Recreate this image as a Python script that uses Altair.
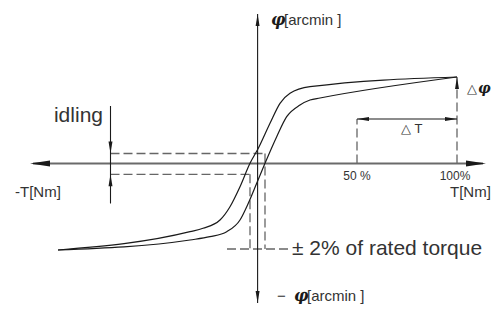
import altair as alt
import pandas as pd

# ---- data (T in % of rated torque, phi in schematic arcmin units) ----
upper_T   = [-99.5, -33.5, -27.0, -18.5, -13.5, -8.5, -3.5, 0.65, 6.5, 11.5, 16.5, 26.5, 100]
upper_phi = [-8.65, -6.82, -6.48, -5.65, -4.32, -2.32, 0.02, 1.52, 4.02, 6.02, 7.02, 7.68, 8.65]
lower_T   = [-99.5, -33.5, -23.5, -15.15, -8.5, -4.35, -0.15, 4.0, 9.85, 14.85, 21.5, 26.5, 31.5, 100]
lower_phi = [-8.65, -7.65, -7.32, -6.82, -5.65, -3.98, -1.98, 0.02, 2.68, 4.68, 5.85, 6.35, 6.55, 8.65]

# solid lines: horizontal axis, vertical axis, idling marker, delta-T dimension
axis_h_T   = [-112.0, 113.0]
axis_h_phi = [0.0, 0.0]
solid_T1   = [0.3, -73.25, 50.0]
solid_T2   = [0.3, -73.25, 100.0]
solid_p1   = [14.95, 5.75, 4.45]
solid_p2   = [-13.95, -4.0, 4.45]

# dashed helper lines
dash_T1 = [-73.25, -73.25, 4.0, -3.5, -15.0, 50.0, 100.0]
dash_T2 = [4.0, -3.5, 4.0, -3.5, 15.5, 50.0, 100.0]
dash_p1 = [1.0, -1.08, 1.0, -1.08, -8.55, 0.0, 0.0]
dash_p2 = [1.0, -1.08, -8.55, -8.55, -8.55, 4.45, 8.65]

# arrowheads (tip positions and directions)
big_arrow_T   = [-113.5, 114.5]
big_arrow_phi = [0.0, 0.0]
big_arrow_ang = [270, 90]
small_arrow_T   = [0.3, 0.3, -73.25, -73.25, 50.0, 100.0, 100.0]
small_arrow_phi = [14.95, -13.95, 1.0, -1.08, 4.45, 4.45, 8.65]
small_arrow_ang = [0, 180, 180, 0, 270, 90, 0]

# labels
big_labels   = ["idling", "± 2% of rated torque"]
big_T        = [-77.0, 17.5]
big_phi      = [4.15, -9.15]
unit_labels  = ["-T[Nm]", "T[Nm]", "[arcmin ]", "[arcmin ]", "−"]
unit_T       = [-121.0, 96.5, 13.5, 25.0, 10.0]
unit_phi     = [-3.35, -3.35, 13.85, -13.75, -13.75]
pct_labels   = ["50 %", "100%", "△  T"]
pct_T        = [50.0, 99.0, 72.0]
pct_phi      = [-1.65, -1.65, 3.05]
phi_labels   = ["φ", "φ"]
phi_T        = [7.0, 18.5]
phi_phi      = [13.85, -13.75]
dphi_labels  = ["△", "φ"]
dphi_T       = [105.0, 110.5]
dphi_phi     = [7.05, 7.05]

# ---- chart ----
xs = alt.Scale(domain=[-124.5, 117.0], nice=False, zero=False)
ys = alt.Scale(domain=[-14.05, 15.55], nice=False, zero=False)
X = lambda f: alt.X(f"{f}:Q", scale=xs, axis=None)
Y = lambda f: alt.Y(f"{f}:Q", scale=ys, axis=None)

curve_df = pd.DataFrame(
    [{"branch": "up", "i": i, "T": t, "phi": p} for i, (t, p) in enumerate(zip(upper_T, upper_phi))]
    + [{"branch": "low", "i": i, "T": t, "phi": p} for i, (t, p) in enumerate(zip(lower_T, lower_phi))]
)
curves = alt.Chart(curve_df).mark_line(interpolate="monotone", color="#1a1a1a", strokeWidth=1.2).encode(
    x=X("T"), y=Y("phi"), detail="branch:N", order="i:Q")

haxis = alt.Chart(pd.DataFrame({"T": axis_h_T, "phi": axis_h_phi})).mark_line(
    color="#6a6a6a", strokeWidth=1.8).encode(x=X("T"), y=Y("phi"))

solid_df = pd.DataFrame({"T1": solid_T1, "T2": solid_T2, "p1": solid_p1, "p2": solid_p2})
solid = alt.Chart(solid_df).mark_rule(color="#1a1a1a", strokeWidth=1.1).encode(
    x=X("T1"), x2="T2:Q", y=Y("p1"), y2="p2:Q")

dash_df = pd.DataFrame({"T1": dash_T1, "T2": dash_T2, "p1": dash_p1, "p2": dash_p2})
dashed = alt.Chart(dash_df).mark_rule(color="#666666", strokeWidth=1.3, strokeDash=[9, 4]).encode(
    x=X("T1"), x2="T2:Q", y=Y("p1"), y2="p2:Q")

big_arrows = alt.Chart(pd.DataFrame({"T": big_arrow_T, "phi": big_arrow_phi, "ang": big_arrow_ang})).mark_point(
    shape="M0,0L0.3,2L-0.3,2Z", filled=True, size=400, opacity=1, strokeWidth=0, color="#1a1a1a").encode(
    x=X("T"), y=Y("phi"), angle=alt.Angle("ang:Q", scale=None))

small_arrows = alt.Chart(pd.DataFrame({"T": small_arrow_T, "phi": small_arrow_phi, "ang": small_arrow_ang})).mark_point(
    shape="M0,0L0.33,2L-0.33,2Z", filled=True, size=144, opacity=1, strokeWidth=0, color="#1a1a1a").encode(
    x=X("T"), y=Y("phi"), angle=alt.Angle("ang:Q", scale=None))

FONT = "Liberation Sans"
TXT = "#333333"

big_left = alt.Chart(pd.DataFrame({"t": big_labels[1:], "T": big_T[1:], "phi": big_phi[1:]})).mark_text(
    baseline="alphabetic", align="left", fontSize=21, font=FONT, color=TXT).encode(x=X("T"), y=Y("phi"), text="t:N")
big_right = alt.Chart(pd.DataFrame({"t": big_labels[:1], "T": big_T[:1], "phi": big_phi[:1]})).mark_text(
    baseline="alphabetic", align="right", fontSize=21, font=FONT, color=TXT).encode(x=X("T"), y=Y("phi"), text="t:N")

unit_text = alt.Chart(pd.DataFrame({"t": unit_labels, "T": unit_T, "phi": unit_phi})).mark_text(
    baseline="alphabetic", align="left", fontSize=15, font=FONT, color=TXT).encode(x=X("T"), y=Y("phi"), text="t:N")

pct_c = alt.Chart(pd.DataFrame({"t": pct_labels[:2], "T": pct_T[:2], "phi": pct_phi[:2]})).mark_text(
    baseline="alphabetic", align="center", fontSize=12, font=FONT, color=TXT).encode(x=X("T"), y=Y("phi"), text="t:N")
pct_l = alt.Chart(pd.DataFrame({"t": pct_labels[2:], "T": pct_T[2:], "phi": pct_phi[2:]})).mark_text(
    baseline="alphabetic", align="left", fontSize=13, font=FONT, color=TXT).encode(x=X("T"), y=Y("phi"), text="t:N")

phi_text = alt.Chart(pd.DataFrame({"t": phi_labels, "T": phi_T, "phi": phi_phi})).mark_text(
    baseline="alphabetic", align="left", fontSize=16, font="DejaVu Serif", fontStyle="italic", fontWeight="bold",
    color="#1a1a1a").encode(x=X("T"), y=Y("phi"), text="t:N")

dphi_tri = alt.Chart(pd.DataFrame({"t": dphi_labels[:1], "T": dphi_T[:1], "phi": dphi_phi[:1]})).mark_text(
    baseline="alphabetic", align="left", fontSize=13, font=FONT, color=TXT).encode(x=X("T"), y=Y("phi"), text="t:N")
dphi_phi_t = alt.Chart(pd.DataFrame({"t": dphi_labels[1:], "T": dphi_T[1:], "phi": dphi_phi[1:]})).mark_text(
    baseline="alphabetic", align="left", fontSize=14, font="DejaVu Serif", fontStyle="italic", fontWeight="bold",
    color="#1a1a1a").encode(x=X("T"), y=Y("phi"), text="t:N")

chart = alt.layer(
    dashed, haxis, solid, curves, big_arrows, small_arrows,
    big_left, big_right, unit_text, pct_c, pct_l, phi_text, dphi_tri, dphi_phi_t
).properties(
    width=483, height=296, padding=0,
    autosize=alt.AutoSizeParams(type="none"),
    background="white",
).configure_view(stroke=None)

chart.save("out.html", embed_options={"renderer": "svg", "actions": False})
